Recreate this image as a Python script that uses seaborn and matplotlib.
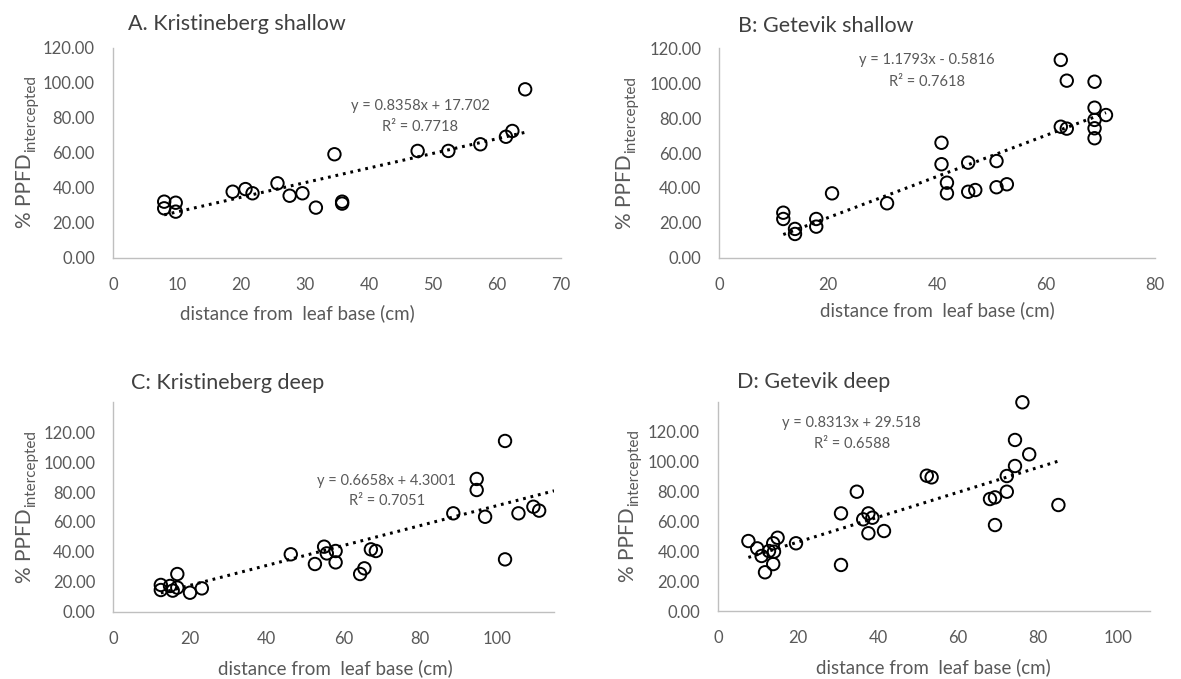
import numpy as np
import pandas as pd
import matplotlib
matplotlib.use("Agg")
import matplotlib.pyplot as plt
import seaborn as sns

# ---------------- data ----------------
titles = ["A. Kristineberg shallow", "B: Getevik shallow", "C: Kristineberg deep", "D: Getevik deep"]

a_x = [8.0, 8.0, 9.8, 9.8, 18.7, 20.7, 21.8, 25.7, 27.6, 29.6, 31.7, 34.6, 35.8, 35.8,
       47.6, 52.4, 57.4, 61.4, 62.4, 64.4]
a_y = [31.9, 28.1, 31.3, 26.2, 37.6, 39.1, 36.7, 42.4, 35.3, 36.7, 28.5, 59.0, 31.9, 30.8,
       60.9, 60.9, 64.7, 69.0, 72.3, 96.1]

b_x = [11.75, 11.75, 13.9, 13.9, 17.8, 17.8, 20.7, 30.8, 40.8, 40.8, 41.8, 41.8, 45.7, 45.7,
       47.0, 50.9, 50.9, 52.8, 62.7, 63.8, 62.7, 63.8, 68.9, 68.9, 68.9, 68.9, 68.9, 71.0]
b_y = [25.8, 22.2, 16.5, 13.6, 22.2, 17.8, 36.9, 31.2, 65.9, 53.6, 43.0, 36.9, 54.5, 37.8,
       38.8, 55.4, 40.4, 42.1, 113.4, 101.5, 75.1, 74.0, 100.9, 86.0, 79.0, 74.2, 68.5, 81.8]

c_x = [12.4, 12.4, 14.8, 15.5, 16.7, 16.7, 20.0, 23.1, 46.3, 52.6, 55.0, 55.7, 58.0, 58.0,
       64.4, 65.5, 67.2, 68.5, 88.7, 94.8, 94.8, 97.0, 102.2, 102.2, 105.7, 109.6, 111.1]
c_y = [17.9, 14.5, 17.2, 14.1, 25.2, 16.1, 12.7, 15.6, 38.4, 31.9, 43.5, 39.0, 40.6, 33.0,
       25.2, 29.0, 41.7, 40.6, 65.8, 88.8, 81.4, 63.5, 114.2, 35.0, 65.8, 70.2, 67.6]

d_x = [7.6, 9.8, 10.9, 11.75, 12.75, 13.8, 14.0, 13.8, 14.9, 19.5, 30.75, 30.75, 34.7, 36.3,
       37.6, 38.6, 37.6, 41.5, 52.2, 53.4, 68.0, 69.25, 69.25, 72.2, 72.2, 74.25, 74.25, 76.1,
       77.8, 85.1]
d_y = [46.8, 41.9, 36.8, 25.9, 40.1, 45.3, 39.7, 31.4, 49.0, 45.3, 65.3, 30.8, 79.8, 61.3,
       65.3, 62.4, 52.0, 53.5, 90.5, 89.4, 74.9, 76.0, 57.5, 90.3, 79.8, 114.4, 97.0, 139.6,
       104.8, 70.9]

slopes = [0.8358, 1.1793, 0.6658, 0.8313]
intercepts = [17.702, -0.5816, 4.3001, 29.518]
r2_values = [0.7718, 0.7618, 0.7051, 0.6588]
trend_end = [None, None, 115, None]

x_ticks = [list(range(0, 71, 10)), list(range(0, 81, 20)), list(range(0, 101, 20)), list(range(0, 101, 20))]
x_limits = [(0, 70), (0, 80), (0, 115), (0, 108)]
y_limits = [(0, 120), (0, 120), (0, 140), (0, 140)]
y_ticks = list(range(0, 121, 20))
x_label = "distance from  leaf base (cm)"
y_main = "% PPFD"
y_sub = "intercepted"

# ---------------- layout ----------------
sns.set_theme(style="white")
plt.rcParams["font.family"] = ["Lato", "DejaVu Sans"]

W, H = 1181, 679
fig = plt.figure(figsize=(W / 100, H / 100), dpi=100)
fig.patch.set_facecolor("white")

# axes boxes in pixels: left, top, right, bottom
boxes = [(113, 47.5, 561, 257.5), (719.3, 48.4, 1155, 257.7),
         (113.3, 402.4, 554.1, 611.7), (718, 401.7, 1150, 611)]
title_pos = [(128, 24), (738, 26), (131, 383), (737, 382)]
eq_pos = [(48.0, 86.6, 74.6), (38.1, 113.4, 100.8), (71.3, 87.4, 73.9), (33.4, 125.6, 111.7)]
xlabel_center = [(297, 313), (937, 310), (335, 668), (933, 667)]
ylabel_x = [25, 625, 25, 628]

xs = [a_x, b_x, c_x, d_x]
ys = [a_y, b_y, c_y, d_y]

grey_text = "#595959"
spine_col = "#bfbfbf"

for i in range(4):
    l, t, r, b = boxes[i]
    ax = fig.add_axes([l / W, (H - b) / H, (r - l) / W, (b - t) / H])
    df = pd.DataFrame({"x": xs[i], "y": ys[i]})
    sns.scatterplot(data=df, x="x", y="y", ax=ax, s=80, marker="o",
                    facecolors="none", edgecolors="black", linewidth=1.4, zorder=3,
                    clip_on=False)
    x0 = min(xs[i])
    x1 = trend_end[i] if trend_end[i] is not None else max(xs[i])
    lx = np.array([x0, x1])
    ly = slopes[i] * lx + intercepts[i]
    sns.lineplot(x=lx, y=ly, ax=ax, color="black", linewidth=2.2,
                 linestyle=(0, (0.9, 1.6)), zorder=2)

    ax.set_xlim(*x_limits[i])
    ax.set_ylim(*y_limits[i])
    ax.set_xticks(x_ticks[i])
    ax.set_xticklabels([str(v) for v in x_ticks[i]])
    ax.set_yticks(y_ticks)
    ax.set_yticklabels([f"{v:.2f}" for v in y_ticks])
    ax.tick_params(axis="both", length=0, labelsize=12, colors=grey_text)
    ax.tick_params(axis="y", pad=13)
    ax.tick_params(axis="x", pad=14)
    for s in ["top", "right"]:
        ax.spines[s].set_visible(False)
    for s in ["left", "bottom"]:
        ax.spines[s].set_color(spine_col)
        ax.spines[s].set_linewidth(1.0)
    ax.grid(False)
    ax.set_facecolor("white")

    ax.set_xlabel(x_label, fontsize=13.5, color=grey_text)
    cx, cy = xlabel_center[i]
    ax.xaxis.set_label_coords((cx - l) / (r - l), (b - cy) / (b - t), transform=ax.transAxes)
    ax.xaxis.label.set_va("center")
    ax.set_ylabel("")

    # y label: main text + subscript
    ymid = (t + b) / 2
    t1 = fig.text(ylabel_x[i] / W, 1 - (ymid + 76) / H, y_main, rotation=90,
                  ha="center", va="bottom", fontsize=15, color=grey_text)
    fig.texts.append(None) if False else None
    ax.annotate(y_sub, xy=(0.5, 1.0), xycoords=t1, xytext=(4.5, 1),
                textcoords="offset points", rotation=90, ha="center", va="bottom",
                fontsize=11, color=grey_text, annotation_clip=False)

    ex, ey1, ey2 = eq_pos[i]
    sign = "+" if intercepts[i] >= 0 else "-"
    ax.text(ex, ey1, f"y = {slopes[i]:.4f}x {sign} {abs(intercepts[i]):g}",
            ha="center", va="center", fontsize=10.5, color=grey_text)
    ax.text(ex, ey2, f"R² = {r2_values[i]:.4f}", ha="center", va="center",
            fontsize=10.5, color=grey_text)

    tx, ty = title_pos[i]
    fig.text(tx / W, 1 - ty / H, titles[i], ha="left", va="center",
             fontsize=15.5, color="#404040")

fig.savefig("out.png", dpi=100, facecolor="white")
